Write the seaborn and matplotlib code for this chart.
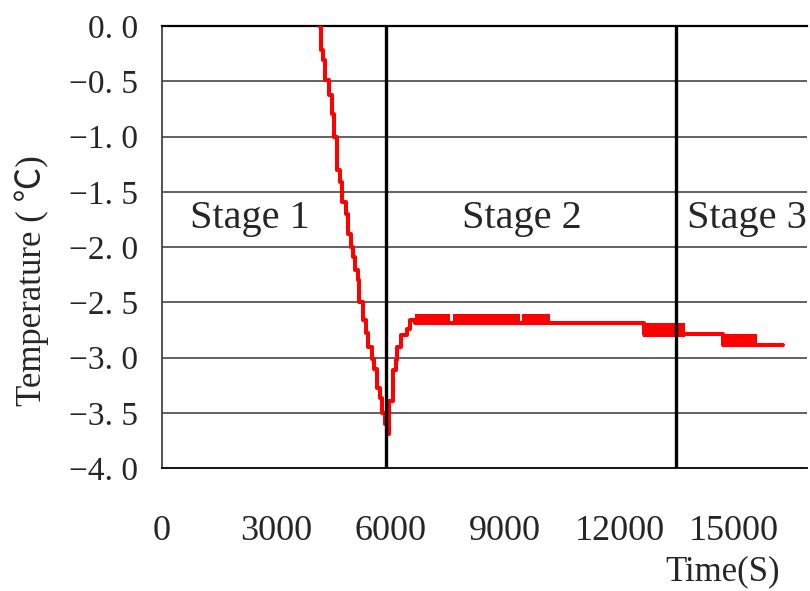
import matplotlib
matplotlib.use("Agg")
import matplotlib.pyplot as plt
import seaborn as sns

sns.set_style("white")
plt.rcParams["font.family"] = ["Liberation Serif", "Noto Sans CJK SC", "DejaVu Sans"]

# stepped temperature record (time in s, temperature in degC)
time_s = [4126, 4161, 4231, 4275, 4389, 4450, 4511, 4581, 4668, 4729, 4826, 4887,
          4948, 5018, 5062, 5149, 5167, 5281, 5350, 5411, 5499, 5560, 5647, 5717,
          5761, 5849, 5909, 5962, 6067, 6137, 6154, 6259, 6416, 6504, 6635,
          12640, 14710, 16290]
temp_c = [0.0, -0.22, -0.31, -0.49, -0.62, -0.80, -1.00, -1.30, -1.41, -1.59, -1.70, -1.88,
          -2.00, -2.09, -2.21, -2.30, -2.50, -2.66, -2.78, -2.90, -3.01, -3.10, -3.28, -3.37,
          -3.50, -3.60, -3.69, -3.39, -3.11, -3.02, -2.90, -2.80, -2.74, -2.66, -2.69,
          -2.79, -2.89, -2.89]

# flickering parts of the record (sensor toggling between two levels)
flicker_start = [6635, 7640, 9430, 12620, 14710]
flicker_end = [7553, 9390, 10176, 13716, 15604]
flicker_hi = [-2.61, -2.61, -2.61, -2.69, -2.79]
flicker_lo = [-2.70, -2.70, -2.70, -2.81, -2.90]

stage_lines = [5875, 13480]
stage_names = ["Stage 1", "Stage 2", "Stage 3"]
stage_x = [2308, 9440, 13770]

y_ticks = [0.0, -0.5, -1.0, -1.5, -2.0, -2.5, -3.0, -3.5, -4.0]
y_labels = ["0. 0", "\u22120. 5", "\u22121. 0", "\u22121. 5", "\u22122. 0",
            "\u22122. 5", "\u22123. 0", "\u22123. 5", "\u22124. 0"]
x_ticks = [0, 3000, 6000, 9000, 12000, 15000]

fig = plt.figure(figsize=(8.1, 5.91), dpi=100)
ax = fig.add_axes([0.2, 0.208, 0.796, 0.748])

# grid lines
for y in y_ticks[1:-1]:
    ax.axhline(y, color="#555555", lw=1.3, zorder=1)

sns.lineplot(x=time_s, y=temp_c, ax=ax, color="red", lw=2.9,
             drawstyle="steps-post", estimator=None, sort=False, zorder=3)
for s, e, hi, lo in zip(flicker_start, flicker_end, flicker_hi, flicker_lo):
    ax.fill_between([s, e], [lo, lo], [hi, hi], color="red", lw=0, zorder=3)

for x in stage_lines:
    ax.axvline(x, color="black", lw=2.4, zorder=4)

for name, x in zip(stage_names, stage_x):
    ax.text(x, -1.74, name, fontsize=29, ha="center" if name != "Stage 3" else "left",
            va="center", zorder=5)

ax.set_xlim(0, 16900)
ax.set_ylim(-4.0, 0.0)
ax.set_yticks(y_ticks)
ax.set_yticklabels(y_labels, fontsize=24)
ax.set_xticks(x_ticks)
ax.set_xticklabels([str(v) for v in x_ticks], fontsize=26)
ax.tick_params(axis="y", length=0, pad=17)
ax.tick_params(axis="x", direction="in", length=9.5, width=1, color="black", pad=34)

ax.spines["right"].set_visible(False)
ax.spines["top"].set_color("black")
ax.spines["top"].set_linewidth(1.6)
ax.spines["bottom"].set_color("black")
ax.spines["bottom"].set_linewidth(1.3)
ax.spines["left"].set_color("#444444")
ax.spines["left"].set_linewidth(1.3)

ax.set_ylabel("Temperature ( \u2103)", fontsize=25)
ax.yaxis.set_label_coords(-0.176, 0.425)
ax.set_xlabel("")
fig.text(0.963, 0.004, "Time(S)", fontsize=25, ha="right", va="bottom")

fig.savefig("out.png", dpi=100)
